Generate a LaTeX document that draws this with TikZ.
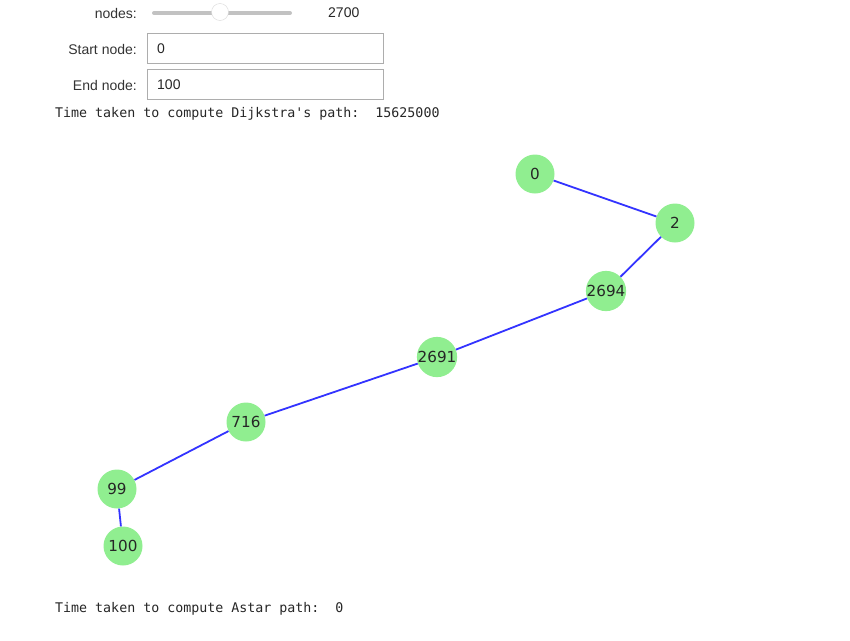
\documentclass[tikz,border=0pt]{standalone}
\usepackage{fontspec}
\setmainfont{Liberation Sans}
\newfontfamily\labfont{DejaVu Sans}
\newfontfamily\monofont{DejaVu Sans Mono}
\definecolor{nodegreen}{HTML}{90EE90}
\definecolor{edgeblue}{HTML}{3333FF}
\definecolor{boxgray}{HTML}{ADADAD}
\definecolor{trackgray}{HTML}{C2C2C2}
\tikzset{
  gnode/.style={circle, fill=nodegreen, minimum size=39pt, inner sep=0pt, font=\labfont\fontsize{15.2}{17}\selectfont, text=black!85},
  gedge/.style={draw=edgeblue, line width=1.8pt},
  wlabel/.style={anchor=east, inner sep=0pt, font=\fontsize{14}{16}\selectfont, text=black!80},
  wbox/.style={draw=boxgray, line width=0.8pt, minimum width=236pt, minimum height=30pt, inner sep=0pt, anchor=north west},
  wtext/.style={anchor=west, inner sep=0pt, font=\fontsize{14}{16}\selectfont, text=black!85},
  mono/.style={anchor=west, inner sep=0pt, font=\monofont\fontsize{13.3}{15}\selectfont, text=black!85}
}
\begin{document}
\begin{tikzpicture}[x=1pt, y=-1pt]
\useasboundingbox (0,0) rectangle (850,640);
% widgets
\node[wlabel] (lnodes) at (137,13) {nodes:};
\draw[trackgray, line width=4pt, line cap=round] (154,13) coordinate (ts) -- (290,13) coordinate (te);
\node[circle, draw=black!15, fill=white, minimum size=17pt, inner sep=0pt] (handle) at (220,12) {};
\node[wtext] (nval) at (328,13) {2700};
\node[wlabel] (lstart) at (137,49) {Start node:};
\node[wbox] (bstart) at (147,33) {};
\node[wtext] (vstart) at (157,49) {0};
\node[wlabel] (lend) at (137,85) {End node:};
\node[wbox] (bend) at (147,69) {};
\node[wtext] (vend) at (157,85) {100};
\node[mono] (tdij) at (55,114) {Time taken to compute Dijkstra's path:\ \ 15625000};
% graph
\node[gnode] (n0) at (535,174) {0};
\node[gnode] (n2) at (675,223) {2};
\node[gnode] (n2694) at (606,291) {2694};
\node[gnode] (n2691) at (437,357) {2691};
\node[gnode] (n716) at (246,422) {716};
\node[gnode] (n99) at (117,489) {99};
\node[gnode] (n100) at (123,546) {100};
\draw[gedge] (n0) -- (n2);
\draw[gedge] (n2) -- (n2694);
\draw[gedge] (n2694) -- (n2691);
\draw[gedge] (n2691) -- (n716);
\draw[gedge] (n716) -- (n99);
\draw[gedge] (n99) -- (n100);
\node[mono] (tast) at (55,609) {Time taken to compute Astar path:\ \ 0};
\end{tikzpicture}
\end{document}
